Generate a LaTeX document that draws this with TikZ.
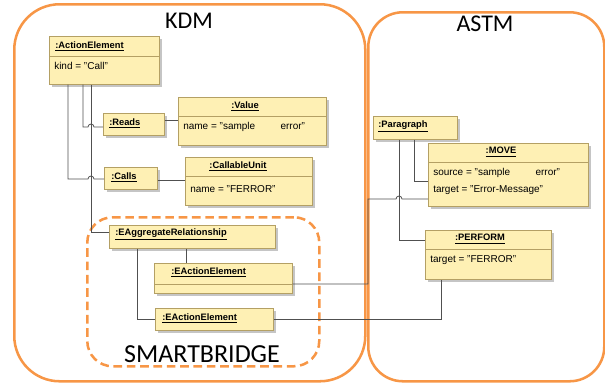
\documentclass[tikz,border=0pt]{standalone}
\usepackage{fontspec}
\setmainfont{Liberation Sans}
\newfontfamily\carlito{Carlito}
\usetikzlibrary{shadows}

\definecolor{objfill}{HTML}{FEF0B4}
\definecolor{objline}{HTML}{B4A064}
\definecolor{pkgline}{HTML}{F79646}
\definecolor{linkline}{HTML}{505050}

\begin{document}
\begin{tikzpicture}[x=0.75pt, y=-0.75pt,
  obj/.style 2 args={draw=objline, fill=objfill, anchor=north west, inner sep=0pt,
    minimum width=#1*0.75pt, minimum height=#2*0.75pt,
    drop shadow={shadow xshift=2pt, shadow yshift=-2pt, fill=black!45, opacity=0.5}},
  objname/.style={font=\fontsize{7}{8}\selectfont\bfseries, inner sep=0pt},
  attr/.style={font=\fontsize{7.5}{9}\selectfont, inner sep=0pt, anchor=west},
  link/.style={draw=linkline, line width=0.6pt},
  pkg/.style={draw=pkgline, line width=1.9pt, anchor=north west, inner sep=0pt},
  pkgtitle/.style={font=\carlito\fontsize{18}{20}\selectfont, inner sep=0pt}]
  \useasboundingbox (0,0) rectangle (605,383);

  % packages
  \node[pkg, rounded corners=34pt, minimum width=351*0.75pt, minimum height=377*0.75pt] (kdm) at (13,3) {};
  \node[pkg, rounded corners=26pt, minimum width=236*0.75pt, minimum height=369*0.75pt] (astm) at (367,11) {};
  \node[pkg, rounded corners=19pt, dash pattern=on 6.5pt off 3.5pt, minimum width=232*0.75pt, minimum height=149*0.75pt] (bridge) at (86,216) {};
  \node[pkgtitle] (kdmT) at (189,21) {KDM};
  \node[pkgtitle] (astmT) at (485,24) {ASTM};
  \node[pkgtitle, font=\carlito\fontsize{19.5}{22}\selectfont] (bridgeT) at (202,354) {SMARTBRIDGE};

  % KDM objects
  \node[obj={110}{48}] (ae) at (49,36) {};
  \draw[objline] (ae.west |- 0,56) -- (ae.east |- 0,56);
  \node[objname, anchor=west] at (55,46) {\underline{:ActionElement}};
  \node[attr] at (54,66) {kind = "Call"};

  \node[obj={61}{22}] (reads) at (103,113) {};
  \node[objname, anchor=west] at (109,123) {\underline{:Reads}};

  \node[obj={148}{48}] (value) at (178,97) {};
  \draw[objline] (value.west |- 0,116) -- (value.east |- 0,116);
  \node[objname] at (245,106) {\underline{:Value}};
  \node[attr] at (183,127) {name = "sample\hspace{19pt}error"};

  \node[obj={53}{22}] (calls) at (104,167) {};
  \node[objname, anchor=west] at (111,177) {\underline{:Calls}};

  \node[obj={127}{48}] (cu) at (185,157) {};
  \draw[objline] (cu.west |- 0,176) -- (cu.east |- 0,176);
  \node[objname] at (238,166) {\underline{:CallableUnit}};
  \node[attr] at (190,189) {name = "FERROR"};

  \node[obj={166}{23}] (eagg) at (109,225) {};
  \node[objname, anchor=west] at (115,234) {\underline{:EAggregateRelationship}};

  \node[obj={138}{30}] (eae1) at (154,263) {};
  \draw[objline] (eae1.west |- 0,284) -- (eae1.east |- 0,284);
  \node[objname, anchor=west] at (171,272) {\underline{:EActionElement}};

  \node[obj={118}{22}] (eae2) at (155,308) {};
  \node[objname, anchor=west] at (162,318) {\underline{:EActionElement}};

  % ASTM objects
  \node[obj={84}{23}] (para) at (373,116) {};
  \node[objname, anchor=west] at (378,126) {\underline{:Paragraph}};

  \node[obj={160}{63}] (move) at (428,143) {};
  \draw[objline] (move.west |- 0,162) -- (move.east |- 0,162);
  \node[objname] at (501,152) {\underline{:MOVE}};
  \node[attr] at (433,173) {source = "sample\hspace{19pt}error"};
  \node[attr] at (433,190) {target = "Error-Message"};

  \node[obj={126}{49}] (perform) at (425,230) {};
  \draw[objline] (perform.west |- 0,249) -- (perform.east |- 0,249);
  \node[objname] at (480,239) {\underline{:PERFORM}};
  \node[attr] at (430,260) {target = "FERROR"};

  % links
  \draw[link] (83,0 |- ae.south) |- (88,127) arc[start angle=180, end angle=0, radius=2.25pt] -- (reads.west |- 0,127);
  \draw[link] (68,0 |- ae.south) |- (88,179) arc[start angle=180, end angle=0, radius=2.25pt] -- (calls.west |- 0,179);
  \draw[link] (91,0 |- ae.south) |- (eagg.west |- 0,232);
  \draw[link] (reads.east |- 0,120) -- (value.west |- 0,120);
  \draw[link] (calls.east |- 0,180) -- (cu.west |- 0,180);
  \draw[link] (186,0 |- eagg.south) -- (186,0 |- eae1.north);
  \draw[link] (137,0 |- eagg.south) |- (eae2.west |- 0,319);
  \draw[link] (eae1.east |- 0,284) -| (368,199) -- (396,199) arc[start angle=180, end angle=0, radius=2.25pt] -- (move.west |- 0,199);
  \draw[link] (eae2.east |- 0,319) -| (441,0 |- perform.south);
  \draw[link] (399,0 |- para.south) |- (perform.west |- 0,240);
  \draw[link] (414,0 |- para.south) |- (move.west |- 0,181);
\end{tikzpicture}
\end{document}
